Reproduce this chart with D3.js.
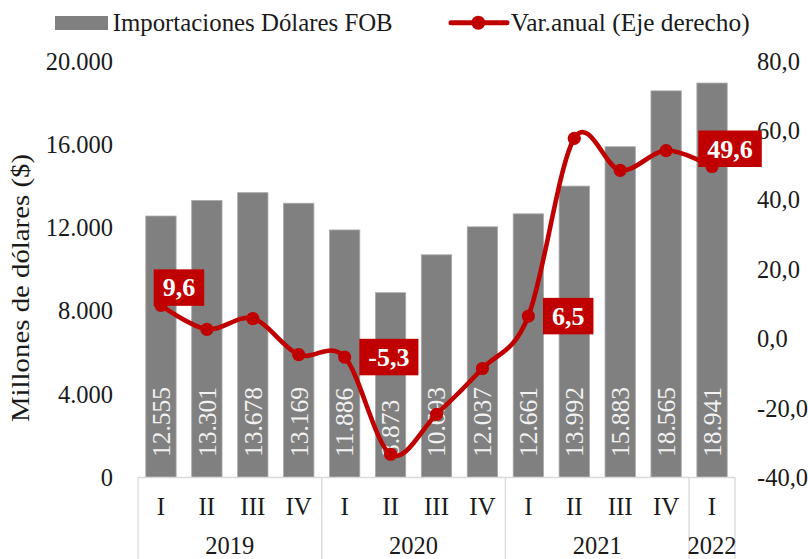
<!DOCTYPE html>
<html>
<head>
<meta charset="utf-8">
<script src="https://cdn.jsdelivr.net/npm/d3@7"></script>
<style>
  html, body { margin: 0; padding: 0; background: #ffffff; }
  svg { display: block; }
  svg text { font-family: "Liberation Serif", "Times New Roman", serif; }
</style>
</head>
<body>
<svg id="chart" width="808" height="559" font-family="Liberation Serif"></svg>
<script>
// ---- Data ----
const quarters = ["I", "II", "III", "IV", "I", "II", "III", "IV", "I", "II", "III", "IV", "I"];
const yearLabels = ["2019", "2020", "2021", "2022"];
const yearCounts = [4, 4, 4, 1];
const importaciones = [12555, 13301, 13678, 13169, 11886, 8873, 10693, 12037, 12661, 13992, 15883, 18565, 18941];
const varAnual = [9.6, 2.7, 5.8, -4.6, -5.3, -33.3, -21.8, -8.6, 6.5, 57.7, 48.5, 54.2, 49.6];
const labelIndex = [0, 4, 8, 12];
const labelPlacement = ["above", "right", "right", "above"];
const leftTicks = [0, 4000, 8000, 12000, 16000, 20000];
const rightTicks = [-40, -20, 0, 20, 40, 60, 80];
const seriesNames = ["Importaciones Dólares FOB", "Var.anual (Eje derecho)"];
const axisTitle = "Millones de dólares ($)";

// ---- Setup ----
const FONT = "Liberation Serif";
const svg = d3.select("#chart");
const plot = { left: 138, right: 735, top: 61, bottom: 477.5 };
const RED = "#C00000", GRAY = "#808080", TEXT = "#1a1a1a", LINEGRAY = "#d9d9d9";

const locale = d3.formatLocale({ decimal: ",", thousands: ".", grouping: [3], currency: ["$", ""], minus: "-" });
const fmtThousands = locale.format(",.0f");
const fmtOne = locale.format(".1f");

const idx = d3.range(quarters.length);
const x = d3.scaleBand().domain(idx).range([plot.left, plot.right]).paddingInner(0.34).paddingOuter(0.17);
const yL = d3.scaleLinear().domain([0, 20000]).range([plot.bottom, plot.top]);
const yR = d3.scaleLinear().domain([-40, 80]).range([plot.bottom, plot.top]);
const cx = i => x(i) + x.bandwidth() / 2;

// ---- Left axis ----
const leftAxis = d3.axisLeft(yL).tickValues(leftTicks).tickFormat(fmtThousands).tickSize(0).tickPadding(0);
const gL = svg.append("g").attr("transform", `translate(113,0)`).call(leftAxis);
gL.attr("font-family", FONT);
gL.select(".domain").remove();
gL.selectAll("text").attr("font-size", 24.5).attr("fill", TEXT).attr("dy", "0.33em")
  .attr("font-family", FONT);

// ---- Right axis ----
const rightAxis = d3.axisRight(yR).tickValues(rightTicks).tickFormat(fmtOne).tickSize(0).tickPadding(0);
const gR = svg.append("g").attr("transform", `translate(757,0)`).call(rightAxis);
gR.attr("font-family", FONT);
gR.select(".domain").remove();
gR.selectAll("text").attr("font-size", 24.5).attr("fill", TEXT).attr("dy", "0.33em")
  .attr("font-family", FONT);

// ---- Axis title ----
svg.append("text")
  .attr("transform", `translate(29,${(153 + 423) / 2}) rotate(-90)`)
  .attr("text-anchor", "middle")
  .attr("font-family", FONT)
  .attr("font-size", 26)
  .attr("fill", TEXT)
  .attr("textLength", 268)
  .attr("lengthAdjust", "spacingAndGlyphs")
  .text(axisTitle);

// ---- Bars ----
svg.append("g").selectAll("rect").data(importaciones).join("rect")
  .attr("x", (d, i) => x(i))
  .attr("y", d => yL(d))
  .attr("width", x.bandwidth())
  .attr("height", d => yL(0) - yL(d))
  .attr("fill", GRAY)
  .attr("stroke", "#a8a8a8")
  .attr("stroke-width", 0.8);

// ---- Bar labels (rotated, inside base) ----
svg.append("g").selectAll("text").data(importaciones).join("text")
  .attr("transform", (d, i) => `translate(${cx(i) + 8.8},${plot.bottom - 20.5}) rotate(-90)`)
  .attr("text-anchor", "start")
  .attr("font-family", FONT)
  .attr("font-size", 25.5)
  .attr("fill", "#f2f2f2")
  .text(d => fmtThousands(d));

// ---- Category axis (multi-level) ----
const gC = svg.append("g").attr("font-family", FONT);
gC.append("line")
  .attr("x1", plot.left).attr("x2", plot.right)
  .attr("y1", plot.bottom).attr("y2", plot.bottom)
  .attr("stroke", LINEGRAY).attr("stroke-width", 1.3);
gC.selectAll("text.q").data(quarters).join("text")
  .attr("class", "q")
  .attr("x", (d, i) => cx(i))
  .attr("y", 515)
  .attr("text-anchor", "middle")
  .attr("font-family", FONT)
  .attr("font-size", 25)
  .attr("fill", TEXT)
  .text(d => d);
const step = x.step();
let start = 0;
const groups = yearLabels.map((y, k) => {
  const g = { label: y, from: start, to: start + yearCounts[k] };
  start += yearCounts[k];
  return g;
});
const edge = i => plot.left + i * step;
const boundaries = [0].concat(groups.map(g => g.to));
gC.selectAll("line.sep").data(boundaries).join("line")
  .attr("class", "sep")
  .attr("x1", d => edge(d)).attr("x2", d => edge(d))
  .attr("y1", plot.bottom).attr("y2", 559)
  .attr("stroke", LINEGRAY).attr("stroke-width", 1.3);
gC.selectAll("text.y").data(groups).join("text")
  .attr("class", "y")
  .attr("x", g => (edge(g.from) + edge(g.to)) / 2)
  .attr("y", 553.5)
  .attr("text-anchor", "middle")
  .attr("font-family", FONT)
  .attr("font-size", 24.5)
  .attr("fill", TEXT)
  .text(g => g.label);

// ---- Line ----
const line = d3.line()
  .x((d, i) => cx(i))
  .y(d => yR(d))
  .curve(d3.curveCardinal.tension(0));
svg.append("path")
  .datum(varAnual)
  .attr("d", line)
  .attr("fill", "none")
  .attr("stroke", RED)
  .attr("stroke-width", 4.6)
  .attr("stroke-linejoin", "round")
  .attr("stroke-linecap", "round");
svg.append("g").selectAll("circle").data(varAnual).join("circle")
  .attr("cx", (d, i) => cx(i))
  .attr("cy", d => yR(d))
  .attr("r", 6.6)
  .attr("fill", RED);

// ---- Data labels (red boxes) ----
const lblFont = 26;
const gLab = svg.append("g");
labelIndex.forEach((i, k) => {
  const px = cx(i), py = yR(varAnual[i]);
  const t = gLab.append("text")
    .attr("font-family", FONT)
    .attr("font-size", lblFont)
    .attr("font-weight", "bold")
    .attr("fill", "#ffffff")
    .attr("text-anchor", "middle")
    .text(fmtOne(varAnual[i]));
  const w = t.node().getComputedTextLength() + 18;
  const h = 36.5;
  let bx, by;
  if (labelPlacement[k] === "above") {
    bx = px + 18 - w / 2;
    by = py + 0.5 - h;
  } else {
    bx = px + 14.6;
    by = py - h / 2;
  }
  gLab.insert("rect", () => t.node())
    .attr("x", bx).attr("y", by)
    .attr("width", w).attr("height", h)
    .attr("fill", RED);
  t.attr("x", bx + w / 2).attr("y", by + h / 2 + 0.34 * lblFont);
});

// ---- Legend ----
const gLeg = svg.append("g");
gLeg.append("rect").attr("x", 55).attr("y", 16).attr("width", 53).attr("height", 14).attr("fill", GRAY);
gLeg.append("text").attr("x", 112.7).attr("y", 31).attr("font-family", FONT).attr("font-size", 25).attr("fill", TEXT)
  .attr("textLength", 280).attr("lengthAdjust", "spacingAndGlyphs")
  .text(seriesNames[0]);
gLeg.append("line").attr("x1", 451).attr("x2", 507).attr("y1", 22.7).attr("y2", 22.7)
  .attr("stroke", RED).attr("stroke-width", 5).attr("stroke-linecap", "round");
gLeg.append("circle").attr("cx", 478.3).attr("cy", 22.7).attr("r", 7).attr("fill", RED);
gLeg.append("text").attr("x", 510.7).attr("y", 31).attr("font-family", FONT).attr("font-size", 25).attr("fill", TEXT)
  .attr("textLength", 239).attr("lengthAdjust", "spacingAndGlyphs")
  .text(seriesNames[1]);
</script>
</body>
</html>
